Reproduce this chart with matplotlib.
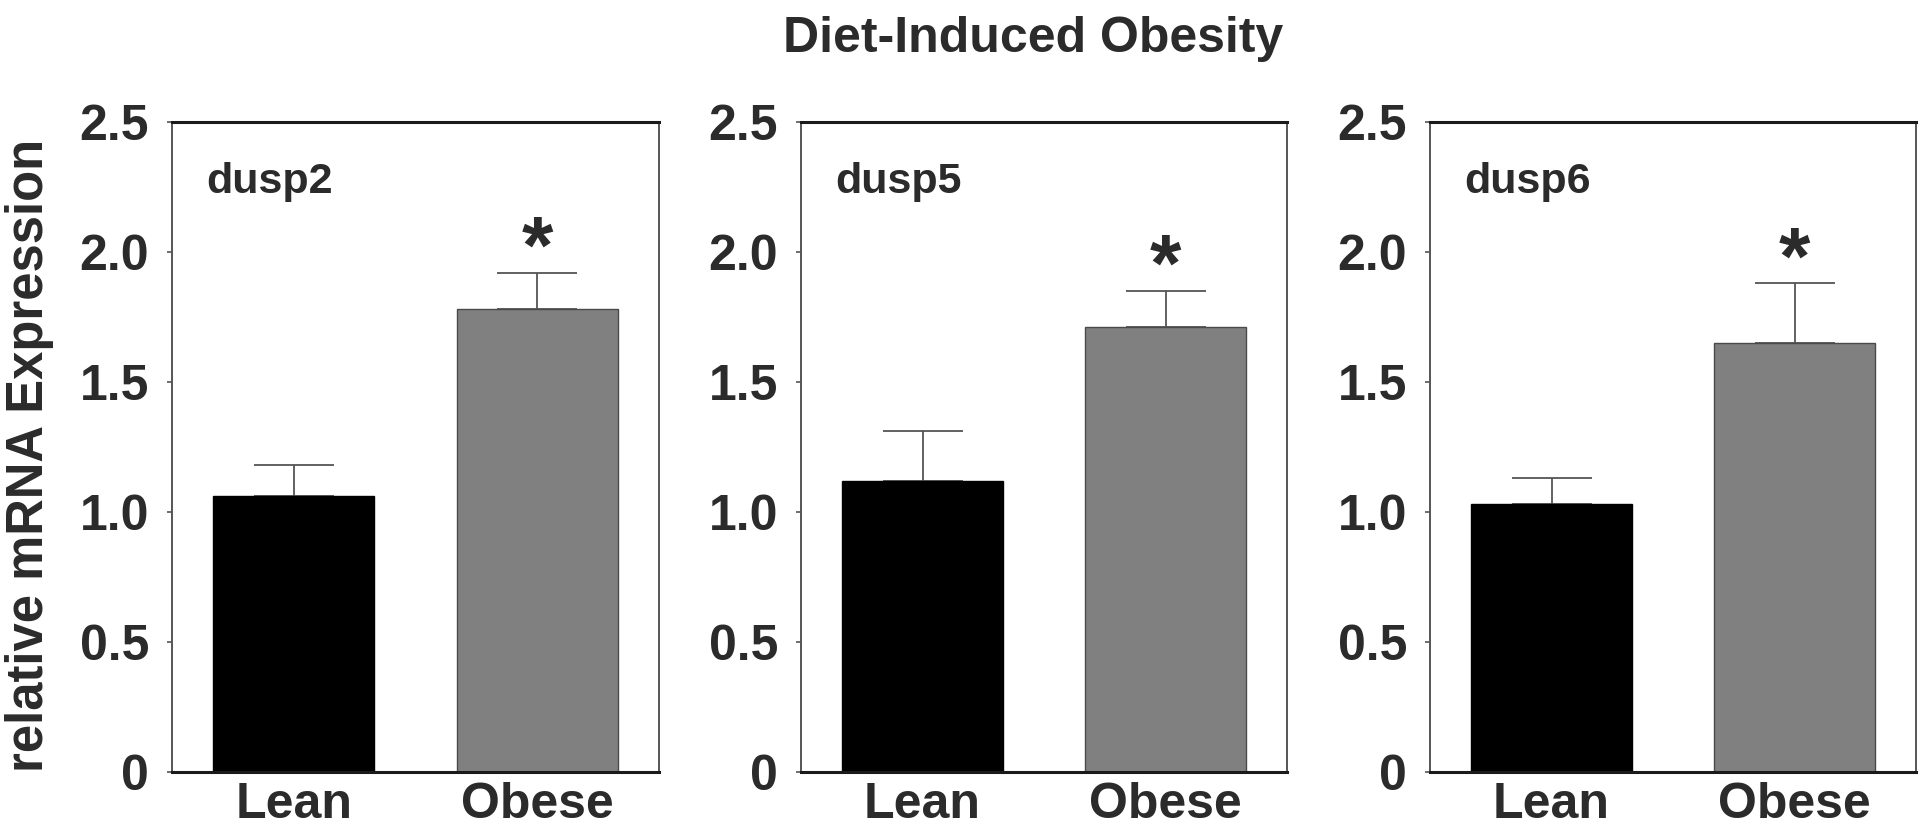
"""Diet-induced obesity: dusp2/5/6 mRNA in lean vs obese, three bar panels."""
import numpy as np
import matplotlib
matplotlib.use("Agg")
import matplotlib.pyplot as plt

# ── data ──────────────────────────────────────────────────────────────────────
GENES  = ["dusp2", "dusp5", "dusp6"]
GROUPS = ["Lean", "Obese"]

MEAN_DUSP2 = [1.06, 1.78]
MEAN_DUSP5 = [1.12, 1.71]
MEAN_DUSP6 = [1.03, 1.65]

SEM_DUSP2 = [0.12, 0.14]
SEM_DUSP5 = [0.19, 0.14]
SEM_DUSP6 = [0.10, 0.23]

SIG = [False, True]          # asterisk over the obese bar

YTICKS      = [0, 0.5, 1.0, 1.5, 2.0, 2.5]
YTICK_TEXT  = ["0", "0.5", "1.0", "1.5", "2.0", "2.5"]

MEANS = [MEAN_DUSP2, MEAN_DUSP5, MEAN_DUSP6]
SEMS  = [SEM_DUSP2, SEM_DUSP5, SEM_DUSP6]

# ── style ─────────────────────────────────────────────────────────────────────
COLORS = {
    "Lean":  "#000000",
    "Obese": "#808080",
}
EDGE   = {"Lean": "#000000", "Obese": "#4a4a4a"}
TEXT   = "#2b2b2b"
GREY   = "#555555"

plt.rcParams["font.family"] = ["Liberation Sans", "DejaVu Sans"]
plt.rcParams["font.weight"] = "bold"

W, H = 1920, 831
fig = plt.figure(figsize=(W / 100, H / 100), dpi=100)
fig.patch.set_facecolor("white")

# panel boxes in pixels: (left, right), top / bottom shared
PANEL_X = [(172, 659), (801, 1287), (1430, 1916)]
TOP, BOTTOM = 122, 772

x = np.arange(len(GROUPS))
for i, (gene, means, sems) in enumerate(zip(GENES, MEANS, SEMS)):
    l, r = PANEL_X[i]
    ax = fig.add_axes([l / W, (H - BOTTOM) / H, (r - l) / W, (BOTTOM - TOP) / H])

    for j, grp in enumerate(GROUPS):
        ax.bar(x[j], means[j], width=0.66, color=COLORS[grp],
               edgecolor=EDGE[grp], linewidth=1.0, zorder=2)
        # upper-only SEM bar
        ax.errorbar(x[j], means[j], yerr=[[0], [sems[j]]], fmt="none",
                    ecolor=GREY, elinewidth=1.3, capsize=29, capthick=1.3,
                    zorder=1)
        if SIG[j]:
            ax.annotate("*", (x[j], means[j] + sems[j]),
                        xytext=(0, 0), textcoords="offset points",
                        ha="center", va="baseline", fontsize=58,
                        fontweight="bold", color=TEXT)

    ax.set_xlim(-0.5, 1.5)
    ax.set_ylim(0, 2.5)
    ax.set_yticks(YTICKS)
    ax.set_yticklabels(YTICK_TEXT)
    ax.set_xticks(x)
    ax.set_xticklabels(GROUPS)

    ax.tick_params(axis="y", direction="out", length=3.6, width=1.2,
                   color=GREY, labelsize=36, labelcolor=TEXT, pad=13)
    ax.tick_params(axis="x", length=0, labelsize=36, labelcolor=TEXT, pad=7)

    for side in ("top", "bottom"):
        ax.spines[side].set_linewidth(2.2)
        ax.spines[side].set_color("#1a1a1a")
    for side in ("left", "right"):
        ax.spines[side].set_linewidth(1.4)
        ax.spines[side].set_color(GREY)

    ax.text(0.07, 0.891, gene, transform=ax.transAxes, ha="left",
            va="baseline", fontsize=31, fontweight="bold", color=TEXT)

fig.text(30 / W, 1 - 455 / H, "relative mRNA Expression", rotation=90,
         ha="center", va="center", fontsize=36.5, fontweight="bold", color=TEXT)

fig.text(1033 / W, 1 - 52 / H, "Diet-Induced Obesity", ha="center",
         va="baseline", fontsize=36, fontweight="bold", color=TEXT)

fig.savefig("out.png", dpi=100, facecolor="white")
plt.close(fig)
